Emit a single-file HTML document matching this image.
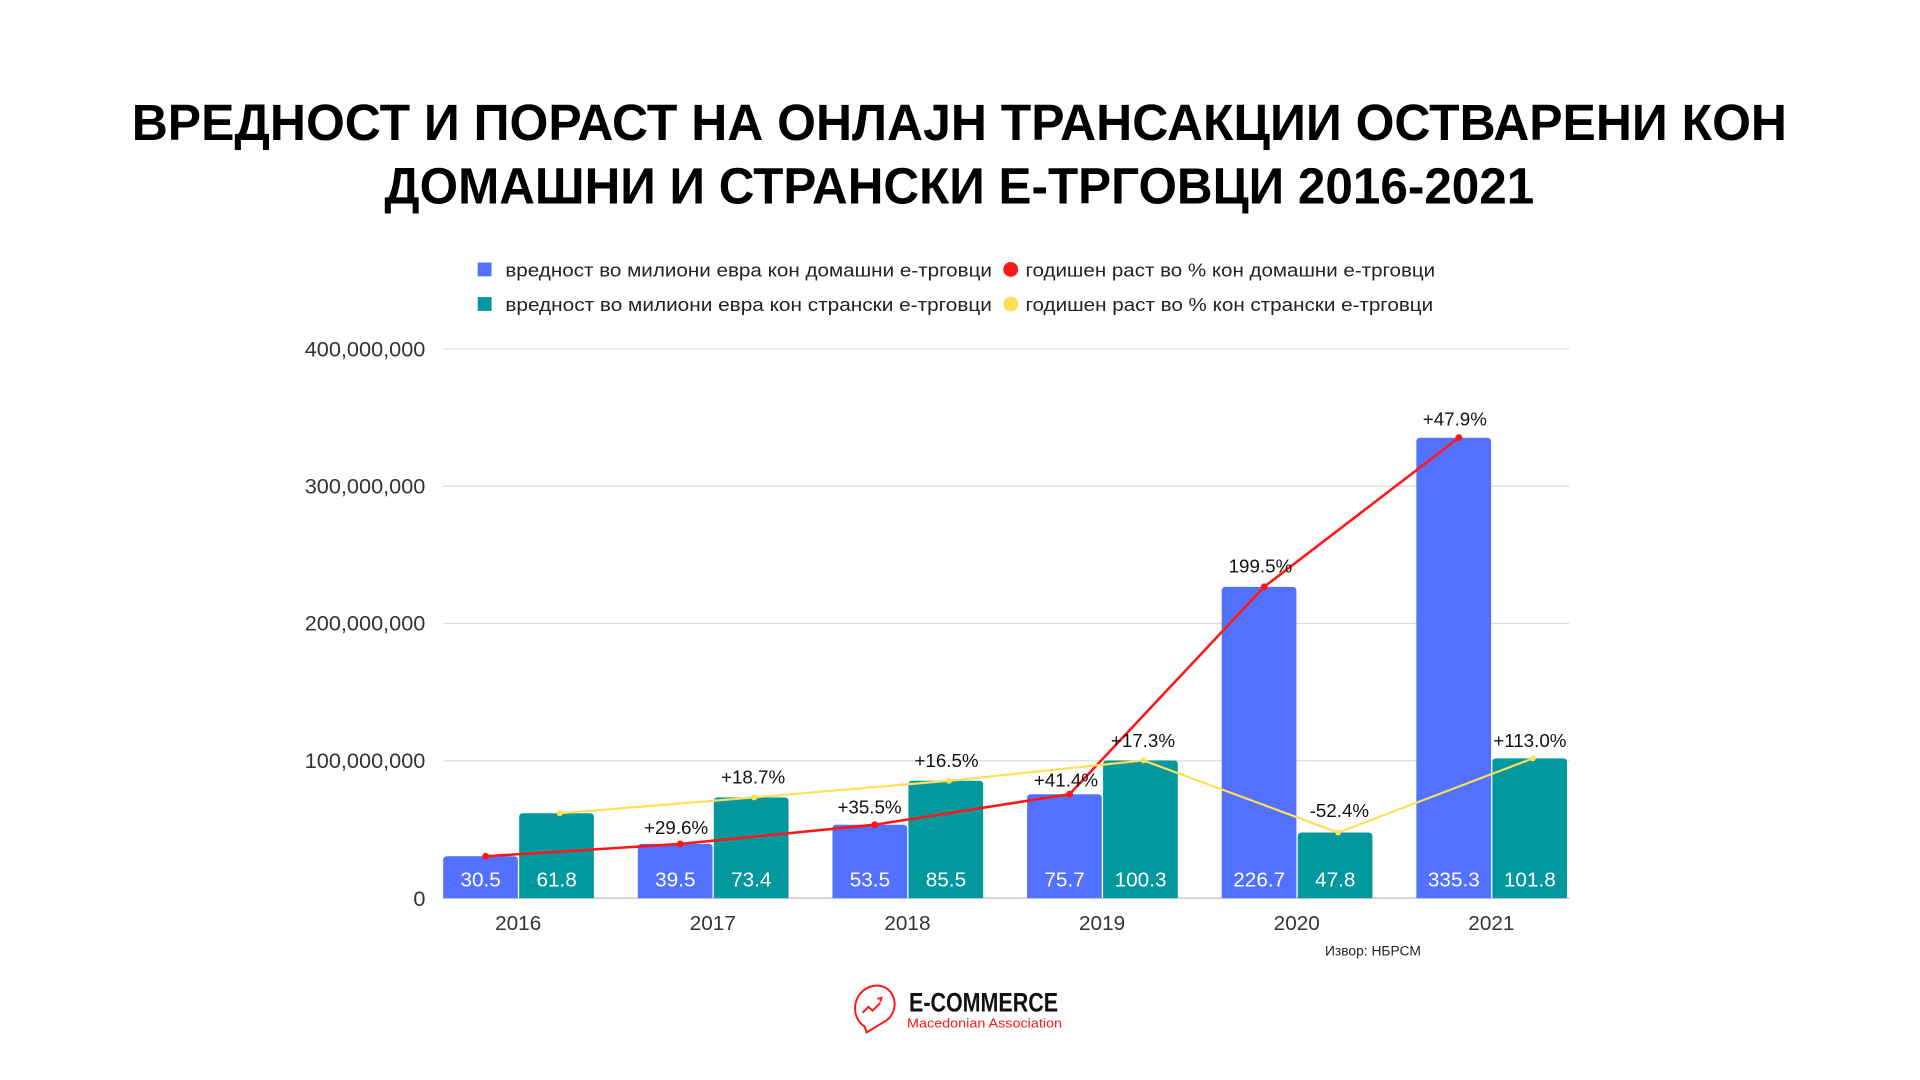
<!DOCTYPE html>
<html><head><meta charset="utf-8"><style>html,body{margin:0;padding:0;background:#fff}svg{display:block}</style></head>
<body>
<svg width="1920" height="1080" viewBox="0 0 1920 1080" xmlns="http://www.w3.org/2000/svg" font-family="Liberation Sans, DejaVu Sans, sans-serif">
<rect width="1920" height="1080" fill="#fff"/>
<g transform="scale(0.987)">
<g font-weight="bold" font-size="52" fill="#000" text-anchor="middle">
<text x="972" y="142" textLength="1677" lengthAdjust="spacingAndGlyphs">ВРЕДНОСТ И ПОРАСТ НА ОНЛАЈН ТРАНСАКЦИИ ОСТВАРЕНИ КОН</text>
<text x="972" y="206" textLength="1165" lengthAdjust="spacingAndGlyphs">ДОМАШНИ И СТРАНСКИ Е-ТРГОВЦИ 2016-2021</text>
</g>
<g font-size="19" fill="#222">
<rect x="484" y="266" width="14" height="14" fill="#5271FF"/>
<text x="512" y="280" textLength="493" lengthAdjust="spacingAndGlyphs">вредност во милиони евра кон домашни е-трговци</text>
<circle cx="1024" cy="273" r="7.5" fill="#FF1616"/>
<text x="1039" y="280" textLength="415" lengthAdjust="spacingAndGlyphs">годишен раст во % кон домашни е-трговци</text>
<rect x="484" y="301" width="14" height="14" fill="#03989E"/>
<text x="512" y="315" textLength="493" lengthAdjust="spacingAndGlyphs">вредност во милиони евра кон странски е-трговци</text>
<circle cx="1024" cy="308" r="7.5" fill="#FFDE59"/>
<text x="1039" y="315" textLength="413" lengthAdjust="spacingAndGlyphs">годишен раст во % кон странски е-трговци</text>
</g>
<g stroke="#dcdcdc" stroke-width="1.3">
<line x1="449" x2="1590" y1="353.5" y2="353.5"/>
<line x1="449" x2="1590" y1="492.6" y2="492.6"/>
<line x1="449" x2="1590" y1="631.7" y2="631.7"/>
<line x1="449" x2="1590" y1="770.8" y2="770.8"/>
<line x1="449" x2="1590" y1="910" y2="910" stroke="#bbb"/>
</g>
<g font-size="22" fill="#333" text-anchor="end">
<text x="431" y="361">400,000,000</text>
<text x="431" y="500">300,000,000</text>
<text x="431" y="639">200,000,000</text>
<text x="431" y="778">100,000,000</text>
<text x="431" y="918">0</text>
</g>
<g id="bars"></g>
<g font-size="21" fill="#333" text-anchor="middle" id="years"></g>
<g font-size="21" fill="#fff" text-anchor="middle" id="vals"></g>
<polyline id="red" fill="none" stroke="#FF1616" stroke-width="2.6"/>
<polyline id="yel" fill="none" stroke="#FFDE59" stroke-width="2.2"/>
<g id="dots"></g>
<g font-size="19" fill="#111" text-anchor="middle">
<text x="685" y="845">+29.6%</text>
<text x="881" y="824">+35.5%</text>
<text x="1080" y="797">+41.4%</text>
<text x="1277" y="580">199.5%</text>
<text x="1474" y="431">+47.9%</text>
<text x="763" y="794">+18.7%</text>
<text x="959" y="777">+16.5%</text>
<text x="1158" y="757">+17.3%</text>
<text x="1357" y="828">-52.4%</text>
<text x="1550" y="757">+113.0%</text>
</g>
<text x="1391" y="968" font-size="14" fill="#222" text-anchor="middle">Извор: НБРСМ</text>
<g fill="none" stroke="#FF1616" stroke-width="2">
<path d="M876 1040 C862 1032 862 1005 884 999 C906 995 914 1022 898 1034 L878 1046 Z"/>
<path d="M874 1026 l6 -6 4 4 8 -8 M889 1012 l4 -1 -1 4"/>
</g>
<text x="921" y="1025" font-size="27" font-weight="bold" fill="#111" textLength="151" lengthAdjust="spacingAndGlyphs">E-COMMERCE</text>
<text x="919" y="1041" font-size="13" fill="#FF1616" textLength="157" lengthAdjust="spacingAndGlyphs">Macedonian Association</text>
</g>
<script>
var B=[30.5,39.5,53.5,75.7,226.7,335.3],T=[61.8,73.4,85.5,100.3,47.8,101.8];
var ns="http://www.w3.org/2000/svg",k=556.5/400,base=910;
function el(p,t,a,txt){var e=document.createElementNS(ns,t);for(var x in a)e.setAttribute(x,a[x]);if(txt)e.textContent=txt;document.getElementById(p).appendChild(e);}
var rp=[],yp=[];
for(var i=0;i<6;i++){var x0=449+197.2*i;
var hb=B[i]*k,ht=T[i]*k;
el("bars","path",{d:"M"+x0+" "+base+"V"+(base-hb+4)+"q0 -4 4 -4h"+(75.7-8)+"q4 0 4 4V"+base+"Z",fill:"#5271FF"});
el("bars","path",{d:"M"+(x0+77)+" "+base+"V"+(base-ht+4)+"q0 -4 4 -4h"+(75.7-8)+"q4 0 4 4V"+base+"Z",fill:"#03989E"});
el("years","text",{x:x0+76,y:942},String(2016+i));
el("vals","text",{x:x0+38,y:898},B[i].toFixed(1));
el("vals","text",{x:x0+115,y:898},T[i].toFixed(1));
rp.push((x0+43)+","+(base-hb));yp.push((x0+118)+","+(base-ht));
el("dots","circle",{cx:x0+43,cy:base-hb,r:3.5,fill:"#FF1616"});
el("dots","circle",{cx:x0+118,cy:base-ht,r:3,fill:"#FFDE59"});}
document.getElementById("red").setAttribute("points",rp.join(" "));
document.getElementById("yel").setAttribute("points",yp.join(" "));
</script>
</svg>
</body></html>
